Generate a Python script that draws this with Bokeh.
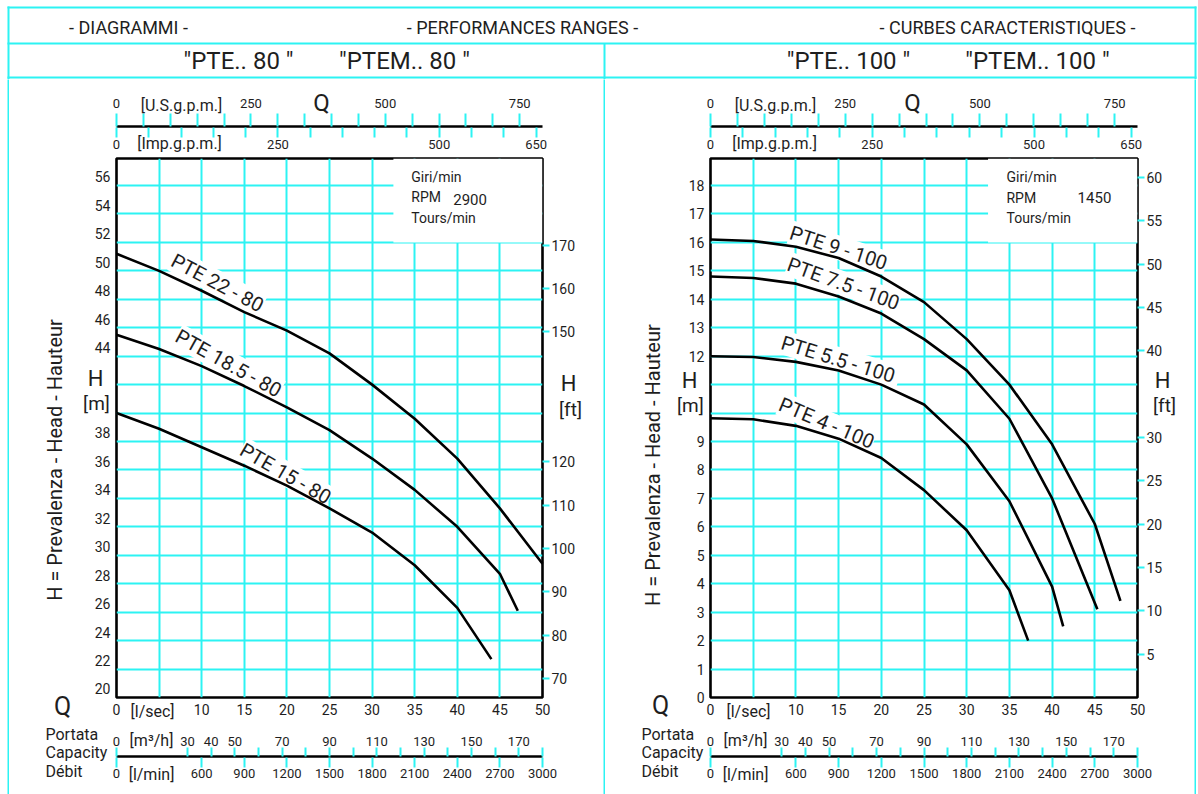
import math
from bokeh.plotting import figure
from bokeh.layouts import row, column
from bokeh.models import Range1d, LinearAxis, FixedTicker, Label, Grid
from bokeh.core.properties import value
from bokeh.embed import file_html
from bokeh.resources import INLINE

FONT = "Roboto"
CYAN = "#2cf3f3"
INK = "#1e1e1e"

# unit conversions
US_GPM_PER_LS = 15.850
IMP_GPM_PER_LS = 13.198
M3H_PER_LS = 3.6
LMIN_PER_LS = 60.0
FT_PER_M = 1 / 0.3048
Q_MAX = 50.0

# ---------------- data ----------------
header_titles = ["- DIAGRAMMI -", "- PERFORMANCES RANGES -", "- CURBES CARACTERISTIQUES -"]
left_models = ['"PTE.. 80 "', '"PTEM.. 80 "']
right_models = ['"PTE.. 100 "', '"PTEM.. 100 "']

q_labels_ls = [0, 10, 15, 20, 25, 30, 35, 40, 45, 50]
q_grid_ls = [5, 10, 15, 20, 25, 30, 35, 40, 45]
usgpm_labels = [0, 250, 500, 750]
usgpm_minor = [50, 100, 150, 200, 300, 350, 400, 450, 550, 600, 650, 700]
impgpm_labels = [0, 250, 500, 650]
impgpm_minor = [50, 100, 150, 200, 300, 350, 400, 450, 550, 600]
m3h_labels = [0, 30, 40, 50, 70, 90, 110, 130, 150, 170]
m3h_minor = [60, 80, 100, 120, 140, 160, 180]
lmin_labels = [0, 600, 900, 1200, 1500, 1800, 2100, 2400, 2700, 3000]

# left chart: PTE.. 80, 2900 rpm
l_h_range = (20, 57.9)
l_h_labels = [20, 22, 24, 26, 28, 30, 32, 34, 36, 38, 44, 46, 48, 50, 52, 54, 56]
l_h_grid = [22, 24, 26, 28, 30, 32, 34, 36, 38, 40, 42, 44, 46, 48, 50, 52, 54, 56]
l_ft_labels = [70, 80, 90, 100, 110, 120, 150, 160, 170]
l_rpm = "2900"
l_names = ["PTE 22 - 80", "PTE 18.5 - 80", "PTE 15 - 80"]
q_22_80 = [0, 5, 10, 15, 20, 25, 30, 35, 40, 45, 50]
h_22_80 = [51.2, 50.0, 48.6, 47.1, 45.8, 44.2, 42.0, 39.6, 36.8, 33.3, 29.4]
q_185_80 = [0, 5, 10, 15, 20, 25, 30, 35, 40, 45, 47.1]
h_185_80 = [45.5, 44.5, 43.3, 41.9, 40.4, 38.8, 36.8, 34.6, 32.0, 28.7, 26.1]
q_15_80 = [0, 5, 10, 15, 20, 25, 30, 35, 40, 44]
h_15_80 = [40.0, 38.9, 37.6, 36.3, 34.9, 33.3, 31.6, 29.3, 26.3, 22.7]

# right chart: PTE.. 100, 1450 rpm
r_h_range = (0, 18.95)
r_h_labels = [0, 1, 2, 3, 4, 5, 6, 7, 8, 9, 12, 13, 14, 15, 16, 17, 18]
r_h_grid = list(range(1, 19))
r_ft_labels = [5, 10, 15, 20, 25, 30, 40, 45, 50, 55, 60]
r_rpm = "1450"
r_names = ["PTE 9 - 100", "PTE 7.5 - 100", "PTE  5.5 - 100", "PTE 4 - 100"]
q_9_100 = [0, 5, 10, 15, 20, 25, 30, 35, 40, 45, 48]
h_9_100 = [16.1, 16.05, 15.85, 15.45, 14.8, 13.9, 12.6, 11.0, 8.9, 6.1, 3.4]
q_75_100 = [0, 5, 10, 15, 20, 25, 30, 35, 40, 45.3]
h_75_100 = [14.8, 14.75, 14.55, 14.1, 13.5, 12.6, 11.5, 9.8, 7.0, 3.1]
q_55_100 = [0, 5, 10, 15, 20, 25, 30, 35, 40, 41.3]
h_55_100 = [12.0, 11.97, 11.8, 11.5, 11.0, 10.3, 8.9, 6.9, 3.9, 2.5]
q_4_100 = [0, 5, 10, 15, 20, 25, 30, 35, 37.2]
h_4_100 = [9.82, 9.78, 9.55, 9.1, 8.42, 7.29, 5.88, 3.77, 2.0]

# ---------------- helpers ----------------
def base_fig(width, height, xr, yr, **kw):
    return figure(width=width, height=height, x_range=xr, y_range=yr,
                  x_axis_type=None, y_axis_type=None, toolbar_location=None,
                  output_backend="svg", **kw)


def style_axis(ax, tick_out=0, tick_in=0, standoff=4, size="14px", line=False,
               tick_color=CYAN):
    ax.axis_line_color = "black" if line else None
    ax.axis_line_width = 2.6
    ax.major_tick_line_color = tick_color if tick_out or tick_in else None
    ax.major_tick_line_width = 2
    ax.major_tick_out = tick_out
    ax.major_tick_in = tick_in
    ax.minor_tick_line_color = tick_color if tick_out or tick_in else None
    ax.minor_tick_line_width = 2
    ax.minor_tick_out = tick_out
    ax.minor_tick_in = tick_in
    ax.major_label_standoff = standoff
    ax.major_label_text_font = FONT
    ax.major_label_text_font_size = size
    ax.major_label_text_color = INK


def txt(fig, x, y, text, size, align="center", angle=0.0):
    """free text drawn above everything (also in the figure's margins)"""
    fig.text(x=[x], y=[y], text=[text], angle=angle, text_font=value(FONT),
             text_font_size=size, text_color=INK, text_align=align,
             text_baseline="middle", level="overlay")


def build_half(width, mb_left, mb_right, h_range, shift, h_labels, h_grid, ft_labels,
               curves, names, name_pos, rpm, ann, box, strip_ann):
    # ---- top strip: U.S.g.p.m. / Imp.g.p.m. ----
    top = base_fig(width, 77, Range1d(0, Q_MAX * US_GPM_PER_LS), Range1d(0, 2),
                   min_border_left=mb_left, min_border_right=mb_right,
                   min_border_top=47, min_border_bottom=28, outline_line_color=None)
    top.extra_x_ranges = {"imp": Range1d(0, Q_MAX * IMP_GPM_PER_LS)}
    us = LinearAxis(ticker=FixedTicker(ticks=usgpm_labels, minor_ticks=usgpm_minor))
    style_axis(us, tick_out=13, standoff=6, size="13px", line=True)
    top.add_layout(us, "above")
    imp = LinearAxis(x_range_name="imp",
                     ticker=FixedTicker(ticks=impgpm_labels, minor_ticks=impgpm_minor))
    style_axis(imp, tick_out=9, tick_in=1, standoff=2, size="13px")
    top.add_layout(imp, "below")
    txt(top, strip_ann["Q"], 26, "Q", "24px")
    txt(top, strip_ann["us"], 23, "[U.S.g.p.m.]", "16px")
    txt(top, strip_ann["imp"], -15, "[Imp.g.p.m.]", "16px")

    # ---- main chart ----
    main = base_fig(width, 566, Range1d(0, Q_MAX), Range1d(*h_range),
                    min_border_left=mb_left, min_border_right=mb_right,
                    min_border_top=2, min_border_bottom=25,
                    outline_line_color="black", outline_line_width=2.6)
    main.extra_y_ranges = {
        "lab": Range1d(h_range[0] - shift, h_range[1] - shift),
        "ft": Range1d(h_range[0] * FT_PER_M, h_range[1] * FT_PER_M),
    }
    main.add_layout(Grid(dimension=0, ticker=FixedTicker(ticks=q_grid_ls),
                         grid_line_color=CYAN, grid_line_width=2))
    main.add_layout(Grid(dimension=1, ticker=FixedTicker(ticks=h_grid),
                         grid_line_color=CYAN, grid_line_width=2))
    main.quad(left=[box[0]], right=[Q_MAX], bottom=[box[1]], top=[h_range[1]],
              fill_color="white", line_color=None)

    yax = LinearAxis(y_range_name="lab", ticker=FixedTicker(ticks=h_labels))
    style_axis(yax, standoff=6)
    main.add_layout(yax, "left")
    ftax = LinearAxis(y_range_name="ft", ticker=FixedTicker(ticks=ft_labels))
    style_axis(ftax, tick_out=7, standoff=2)
    main.add_layout(ftax, "right")
    xax = LinearAxis(ticker=FixedTicker(ticks=q_labels_ls))
    style_axis(xax, standoff=6)
    main.add_layout(xax, "below")

    for name, (x, y, deg) in zip(names, name_pos):
        main.add_layout(Label(x=x, y=y, text=name, text_font=FONT, text_font_size="20px",
                              text_color=INK, text_align="center", text_baseline="middle",
                              angle=math.radians(deg), background_fill_color="white"))
    for q, h in curves:
        main.line(q, h, line_color="black", line_width=2.6, level="overlay")

    txt(main, *ann["H"], "H", "22px")
    txt(main, *ann["m"], "[m]", "19px")
    txt(main, *ann["title"], "H = Prevalenza - Head - Hauteur", "20px", angle=math.pi / 2)
    txt(main, *ann["Hft"], "H", "22px")
    txt(main, *ann["ft"], "[ft]", "19px")
    txt(main, *ann["Q"], "Q", "25px")
    txt(main, *ann["lsec"], "[l/sec]", "16px")
    sx, sy = ann["speed"]
    txt(main, sx, sy[0], "Giri/min", "14px", align="left")
    txt(main, sx, sy[1], "RPM", "14px", align="left")
    txt(main, sx, sy[2], "Tours/min", "14px", align="left")
    txt(main, ann["rpm"][0], ann["rpm"][1], rpm, "15px")

    # ---- bottom strip: m3/h / l/min ----
    bot = base_fig(width, 72, Range1d(0, Q_MAX * LMIN_PER_LS), Range1d(0, 2),
                   min_border_left=mb_left, min_border_right=mb_right,
                   min_border_top=34, min_border_bottom=36, outline_line_color=None)
    bot.extra_x_ranges = {"m3h": Range1d(0, Q_MAX * M3H_PER_LS)}
    m3 = LinearAxis(x_range_name="m3h", ticker=FixedTicker(ticks=m3h_labels, minor_ticks=m3h_minor))
    style_axis(m3, tick_out=9, standoff=2, size="13px", line=True)
    bot.add_layout(m3, "above")
    lm = LinearAxis(ticker=FixedTicker(ticks=lmin_labels))
    style_axis(lm, tick_out=9, tick_in=1, standoff=1, size="13px")
    bot.add_layout(lm, "below")
    txt(bot, strip_ann["unit"], 18, "[m³/h]", "16px")
    txt(bot, strip_ann["unit"], -16, "[l/min]", "16px")
    txt(bot, strip_ann["port"], 24, "Portata", "16px", align="left")
    txt(bot, strip_ann["port"], 6, "Capacity", "16px", align="left")
    txt(bot, strip_ann["port"], -13, "Débit", "16px", align="left")

    return column(top, main, bot, spacing=0)


left = build_half(
    594, 107, 61, l_h_range, 0.6, l_h_labels, l_h_grid, l_ft_labels,
    [(q_22_80, h_22_80), (q_185_80, h_185_80), (q_15_80, h_15_80)],
    l_names, [(11.85, 49.15, -28), (13.15, 43.5, -29), (19.84, 35.75, -30)],
    l_rpm,
    {"H": (-2.46, 42.43), "m": (-2.35, 40.68), "title": (-7.16, 36.7),
     "Hft": (53.05, 42.08), "ft": (53.29, 40.25), "Q": (-6.34, 19.37),
     "lsec": (4.23, 19.0), "speed": (34.6, (56.57, 55.16, 53.7)), "rpm": (41.5, 55.05)},
    (32.5, 52.0),
    {"Q": 381.4, "us": 120.9, "imp": 117.2, "unit": 246.5, "port": -500},
)

right = build_half(
    589, 105, 57, r_h_range, 0.0, r_h_labels, r_h_grid, r_ft_labels,
    [(q_9_100, h_9_100), (q_75_100, h_75_100), (q_55_100, h_55_100), (q_4_100, h_4_100)],
    r_names, [(14.99, 15.81, -18), (15.57, 14.55, -20), (15.22, 11.87, -17), (13.6, 9.65, -23)],
    r_rpm,
    {"H": (-2.46, 11.13), "m": (-2.35, 10.25), "title": (-6.79, 8.17),
     "Hft": (52.93, 11.16), "ft": (53.16, 10.25), "Q": (-5.85, -0.28),
     "lsec": (4.45, -0.49), "speed": (34.66, (18.31, 17.57, 16.87)), "rpm": (44.96, 17.57)},
    (32.5, 16.0),
    {"Q": 374.9, "us": 120.6, "imp": 118.8, "unit": 246.0, "port": -485},
)

# ---------------- header and frame lines ----------------
header = base_fig(1198, 79, Range1d(0, 1198), Range1d(0, 79), min_border=0,
                  outline_line_color=None)
header.segment(x0=[7, 7, 7, 8, 1195, 604], y0=[72, 36, 2, 0, 0, 0],
               x1=[1196, 1196, 1196, 8, 1195, 604], y1=[72, 36, 2, 73, 73, 36],
               line_color=CYAN, line_width=2)
header.text(x=[128, 522, 1007], y=[52, 52, 52], text=header_titles,
            text_font=value(FONT), text_font_size="18px", text_color=INK,
            text_align="center", text_baseline="middle")
header.text(x=[238, 404, 848, 1037], y=[19, 19, 19, 19],
            text=left_models + right_models,
            text_font=value(FONT), text_font_size="24px", text_color=INK,
            text_align="center", text_baseline="middle")


def filler(w, h, color):
    return base_fig(w, h, Range1d(0, 1), Range1d(0, 1), min_border=0,
                    outline_line_color=None, background_fill_color=color,
                    border_fill_color=color)


H_LOW = 715
layout = column(header,
                row(filler(7, H_LOW, "white"), filler(2, H_LOW, CYAN), left,
                    filler(2, H_LOW, CYAN), right, filler(2, H_LOW, CYAN),
                    filler(2, H_LOW, "white"), spacing=0),
                spacing=0)

open("out.html", "w").write(file_html(layout, INLINE))
